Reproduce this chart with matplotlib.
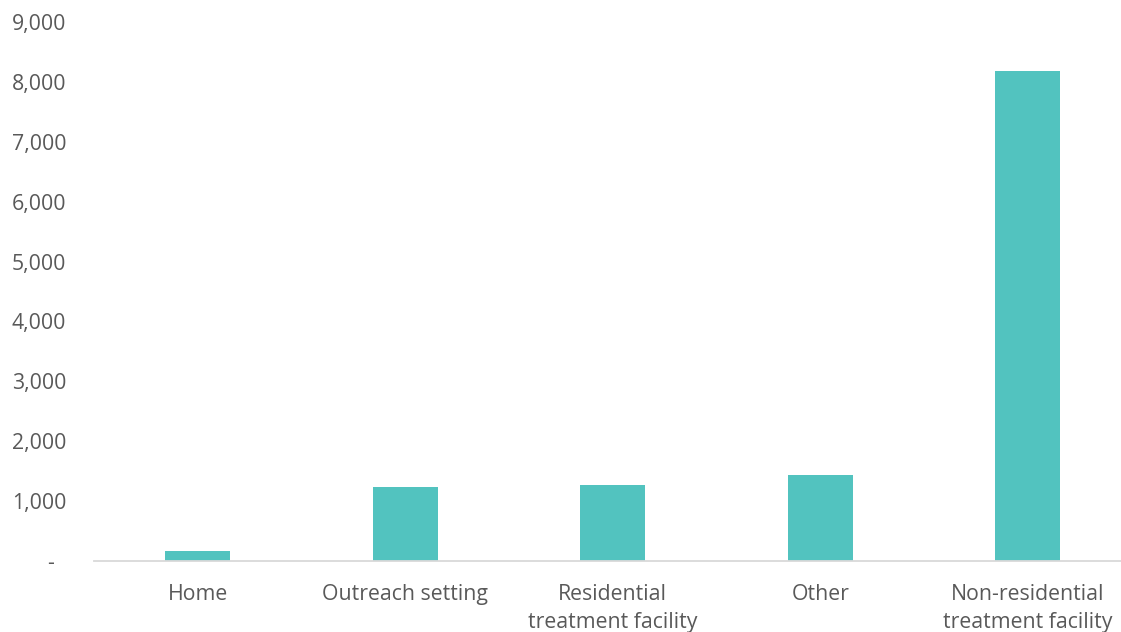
import matplotlib.pyplot as plt
from matplotlib.ticker import FuncFormatter

categories = ["Home", "Outreach setting", "Residential\ntreatment facility",
              "Other", "Non-residential\ntreatment facility"]
values = [162, 1230, 1264, 1441, 8185]
yticks = [0, 1000, 2000, 3000, 4000, 5000, 6000, 7000, 8000, 9000]

plt.rcParams['font.family'] = ['Open Sans', 'DejaVu Sans']

fig = plt.figure(figsize=(11.21, 6.32), dpi=100)
# axes runs slightly past the right edge of the canvas
ax = fig.add_axes([94 / 1121, 71 / 632, 1037.5 / 1121, 539 / 632])

ax.bar(range(len(values)), values, width=0.313, color='#52C3BF')

ax.set_xlim(-0.5, len(values) - 0.5)
ax.set_ylim(0, 9000)
ax.set_yticks(yticks)
ax.yaxis.set_major_formatter(FuncFormatter(lambda v, p: '-  ' if v == 0 else f'{int(v):,}'))
ax.set_xticks(range(len(values)))
ax.set_xticklabels(categories, linespacing=1.45)

for s in ['top', 'right', 'left']:
    ax.spines[s].set_visible(False)
ax.spines['bottom'].set_color('#d9d9d9')
ax.spines['bottom'].set_linewidth(1.3)

ax.tick_params(axis='y', length=0, pad=20, labelsize=15.3, labelcolor='#595959')
ax.tick_params(axis='x', length=0, pad=16.5, labelsize=15.3, labelcolor='#595959')

fig.savefig('out.png', dpi=100)
